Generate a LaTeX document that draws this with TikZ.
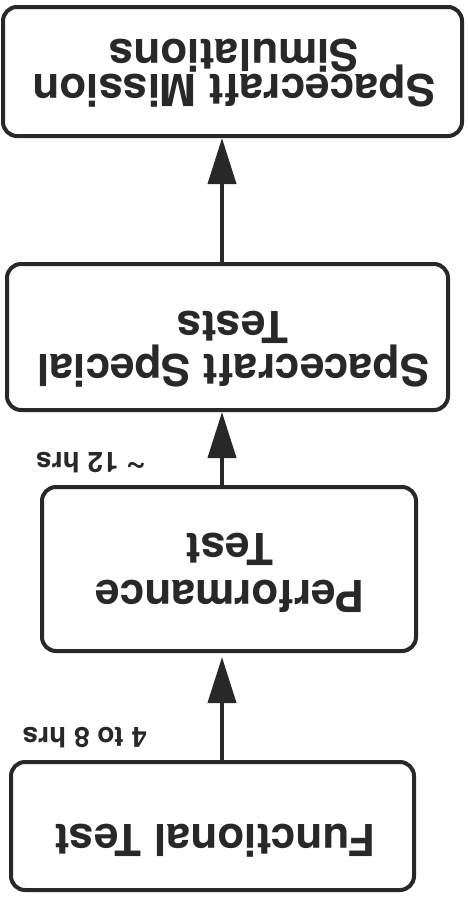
\documentclass[tikz,border=0pt]{standalone}
\usepackage{fontspec}
\setmainfont{TeX Gyre Heros}
\usetikzlibrary{arrows.meta}
\definecolor{ink}{RGB}{40,40,40}
% let stacked lines sit closer than their glyph extents would allow
\newcommand{\tightlines}{\lineskiplimit=-200pt\relax}
% tilde set at mid height, as in "approximately"
\newcommand{\approxmark}{\raisebox{5pt}{\scalebox{1.25}{\textasciitilde}}}
\begin{document}
\begin{tikzpicture}[x=1pt,y=-1pt,
  stagebox/.style={draw=ink, line width=4pt, rounded corners=14pt, inner sep=0pt},
  stagetext/.style={text=ink, rotate=180, align=center, inner sep=0pt,
    font={\bfseries\fontsize{44pt}{#1}\selectfont\tightlines}},
  durlabel/.style={text=ink, rotate=180, inner sep=0pt,
    font={\bfseries\fontsize{28pt}{30pt}\selectfont}},
  flow/.style={draw=ink, line width=4pt, -{Triangle[length=46pt,width=28pt]}}
]
% page frame
\fill[white] (0,0) rectangle (467,898);
\useasboundingbox (0,0) rectangle (467,898);

% stage boxes (the whole chart is printed upside down)
\node[stagebox, minimum width=459pt, minimum height=129pt] (b1) at (232.5,71.5) {};
\node[stagebox, minimum width=441pt, minimum height=146pt] (b2) at (227.5,337) {};
\node[stagebox, minimum width=374pt, minimum height=164pt] (b3) at (229,569) {};
\node[stagebox, minimum width=403pt, minimum height=128pt] (b4) at (212.5,826) {};

% stage names
\node[stagetext=35pt] (t1) at (234,73.5) {Spacecraft Mission\\Simulations};
\node[stagetext=43pt] (t2) at (233,349.5) {Spacecraft Special\\Tests};
\node[stagetext=47pt] (t3) at (230,573) {Performance\\Test};
\node[stagetext=44pt] (t4) at (215,841) {Functional Test};

% durations
\node[durlabel, anchor=west] (d1) at (147,462.5) {\approxmark{} 12 hrs};
\node[durlabel, anchor=west] (d2) at (147,737.5) {4 to 8 hrs};

% flow between stages
\coordinate (axis) at (222,0);
\draw[flow] (axis |- b2.north) -- (axis |- b1.south);
\draw[flow] (axis |- b3.north) -- (axis |- b2.south);
\draw[flow, shorten >=4pt] (axis |- b4.north) -- (axis |- b3.south);
\end{tikzpicture}
\end{document}
